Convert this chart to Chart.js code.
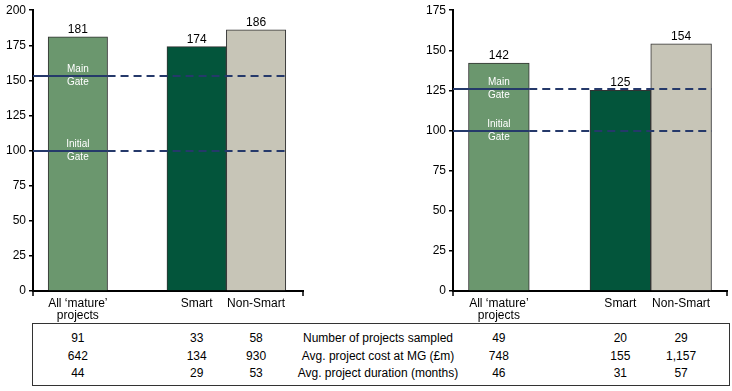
<!DOCTYPE html>
<html>
<head>
<meta charset="utf-8">
<script src="https://cdn.jsdelivr.net/npm/chart.js@4.4.0/dist/chart.umd.min.js"></script>
<style>
  body { margin: 0; background: #fff; font-family: "Liberation Sans", Arial, sans-serif; }
  #page { position: relative; width: 732px; height: 391px; overflow: hidden; }
  canvas { position: absolute; top: 0; }
  #leftChart { left: 0; }
  #rightChart { left: 420px; }
  #statsBox { position: absolute; left: 32px; top: 323px; width: 698px; height: 63px; border: 1px solid #333; box-sizing: border-box; }
  .cell { position: absolute; font-size: 12px; line-height: 14px; color: #000; white-space: nowrap; transform: translateX(-50%); }
</style>
</head>
<body>
<div id="page">
  <canvas id="leftChart" width="312" height="322"></canvas>
  <canvas id="rightChart" width="312" height="322"></canvas>
  <div id="statsBox"></div>
</div>
<script>
// categories (the empty one is the spacer slot between the groups)
const categories = [['All ‘mature’', 'projects'], '', 'Smart', 'Non-Smart'];
const barColors = ['#6b976e', null, '#03553b', '#c7c5b7'];

const leftValues = [181, null, 174, 186];
const rightValues = [142, null, 125, 154];
const leftMax = 200;
const rightMax = 175;

const gateNames = [['Main', 'Gate'], ['Initial', 'Gate']];
const leftGates = [153, 100];
const rightGates = [126, 100];

const rowLabels = ['Number of projects sampled', 'Avg. project cost at MG (£m)', 'Avg. project duration (months)'];
const leftSampled = [91, 33, 58];
const leftCost = [642, 134, 930];
const leftDuration = [44, 29, 53];
const rightSampled = [49, 20, 29];
const rightCost = [748, 155, 1157];
const rightDuration = [46, 31, 57];

Chart.defaults.font.family = '"Liberation Sans", Arial, sans-serif';
Chart.defaults.font.size = 12;
Chart.defaults.color = '#000';

const barExtras = {
    id: 'barExtras',
    afterDatasetsDraw(chart, args, opts) {
        const { ctx, chartArea } = chart;
        const y = chart.scales.y;
        const bars = chart.getDatasetMeta(0).data;
        const raw = chart.data.datasets[0].data;
        ctx.save();

        // values above the bars
        ctx.font = '12px "Liberation Sans", Arial, sans-serif';
        ctx.fillStyle = '#000';
        ctx.textAlign = 'center';
        ctx.textBaseline = 'alphabetic';
        bars.forEach((b, i) => ctx.fillText(raw[i].y, b.x, b.y - 4));

        // gate lines, solid across the first bar then dashed
        const first = bars[0], last = bars[bars.length - 1];
        const solidEnd = first.x + first.width / 2;
        const lineEnd = last.x + last.width / 2;
        opts.gates.forEach((g, k) => {
            const py = Math.round(y.getPixelForValue(g));
            ctx.strokeStyle = '#25396a';
            ctx.lineWidth = 2;
            ctx.setLineDash([]);
            ctx.beginPath(); ctx.moveTo(chartArea.left, py); ctx.lineTo(solidEnd, py); ctx.stroke();
            ctx.setLineDash([8, 5]);
            ctx.beginPath(); ctx.moveTo(solidEnd, py); ctx.lineTo(lineEnd, py); ctx.stroke();

            ctx.fillStyle = '#fff';
            ctx.font = '10px "Liberation Sans", Arial, sans-serif';
            ctx.textBaseline = 'middle';
            ctx.fillText(gateNames[k][0], first.x, py - 7);
            ctx.fillText(gateNames[k][1], first.x, py + 6);
        });

        // tick marks at both ends of the category axis
        ctx.setLineDash([]);
        ctx.strokeStyle = '#000';
        ctx.lineWidth = 1.5;
        [chartArea.left, chartArea.right].forEach(px => {
            ctx.beginPath(); ctx.moveTo(px, chartArea.bottom); ctx.lineTo(px, chartArea.bottom + 5); ctx.stroke();
        });
        ctx.restore();
    }
};

function makeChart(id, values, yMax, gates, rightPad, xMax) {
    const points = values.map((v, i) => ({ x: i, y: v })).filter(p => p.y !== null);
    const colors = values.map((v, i) => barColors[i]).filter((c, i) => values[i] !== null);
    return new Chart(document.getElementById(id), {
        type: 'bar',
        data: {
            datasets: [{
                data: points,
                backgroundColor: colors,
                borderColor: '#333',
                borderWidth: 1,
                barPercentage: 1,
                categoryPercentage: 1
            }]
        },
        options: {
            responsive: false,
            animation: false,
            layout: { padding: { top: 10, right: rightPad, left: 0, bottom: 0 } },
            plugins: { legend: { display: false }, tooltip: { enabled: false }, barExtras: { gates } },
            scales: {
                x: {
                    type: 'linear',
                    min: -0.755,
                    max: xMax,
                    offset: false,
                    afterBuildTicks(s) { s.ticks = categories.map((c, i) => ({ value: i })); },
                    afterFit(s) { s.height = 31; },
                    ticks: {
                        autoSkip: false,
                        maxRotation: 0,
                        padding: 7,
                        font: { size: 12, lineHeight: 1 },
                        callback: v => categories[v]
                    },
                    grid: { display: false, drawTicks: false },
                    border: { display: true, color: '#000', width: 2 }
                },
                y: {
                    min: 0,
                    max: yMax,
                    afterFit(s) { s.width = 33; },
                    ticks: { stepSize: 25, padding: 3, font: { size: 12 } },
                    grid: { drawOnChartArea: false, tickLength: 4, color: '#000', lineWidth: 1.5 },
                    border: { color: '#000', width: 2 }
                }
            }
        },
        plugins: [barExtras]
    });
}

const leftChart = makeChart('leftChart', leftValues, leftMax, leftGates, 9, 3.79);
const rightChart = makeChart('rightChart', rightValues, rightMax, rightGates, 5, 3.755);

// stats table under the charts, columns lined up with the bars
const page = document.getElementById('page');
const rowTops = [331, 349, 366];
const leftRows = [leftSampled, leftCost, leftDuration];
const rightRows = [rightSampled, rightCost, rightDuration];
const barSlots = categories.map((c, i) => i).filter(i => leftValues[i] !== null);

function addCell(text, x, top) {
    const d = document.createElement('div');
    d.className = 'cell';
    d.textContent = text;
    d.style.left = x + 'px';
    d.style.top = top + 'px';
    page.appendChild(d);
}

const labelX = (leftChart.chartArea.right + 420 + rightChart.chartArea.left) / 2;
rowLabels.forEach((label, r) => {
    barSlots.forEach((slot, c) => {
        addCell(leftRows[r][c].toLocaleString('en-US'), leftChart.scales.x.getPixelForValue(slot), rowTops[r]);
        addCell(rightRows[r][c].toLocaleString('en-US'), 420 + rightChart.scales.x.getPixelForValue(slot), rowTops[r]);
    });
    addCell(label, labelX, rowTops[r]);
});
</script>
</body>
</html>
